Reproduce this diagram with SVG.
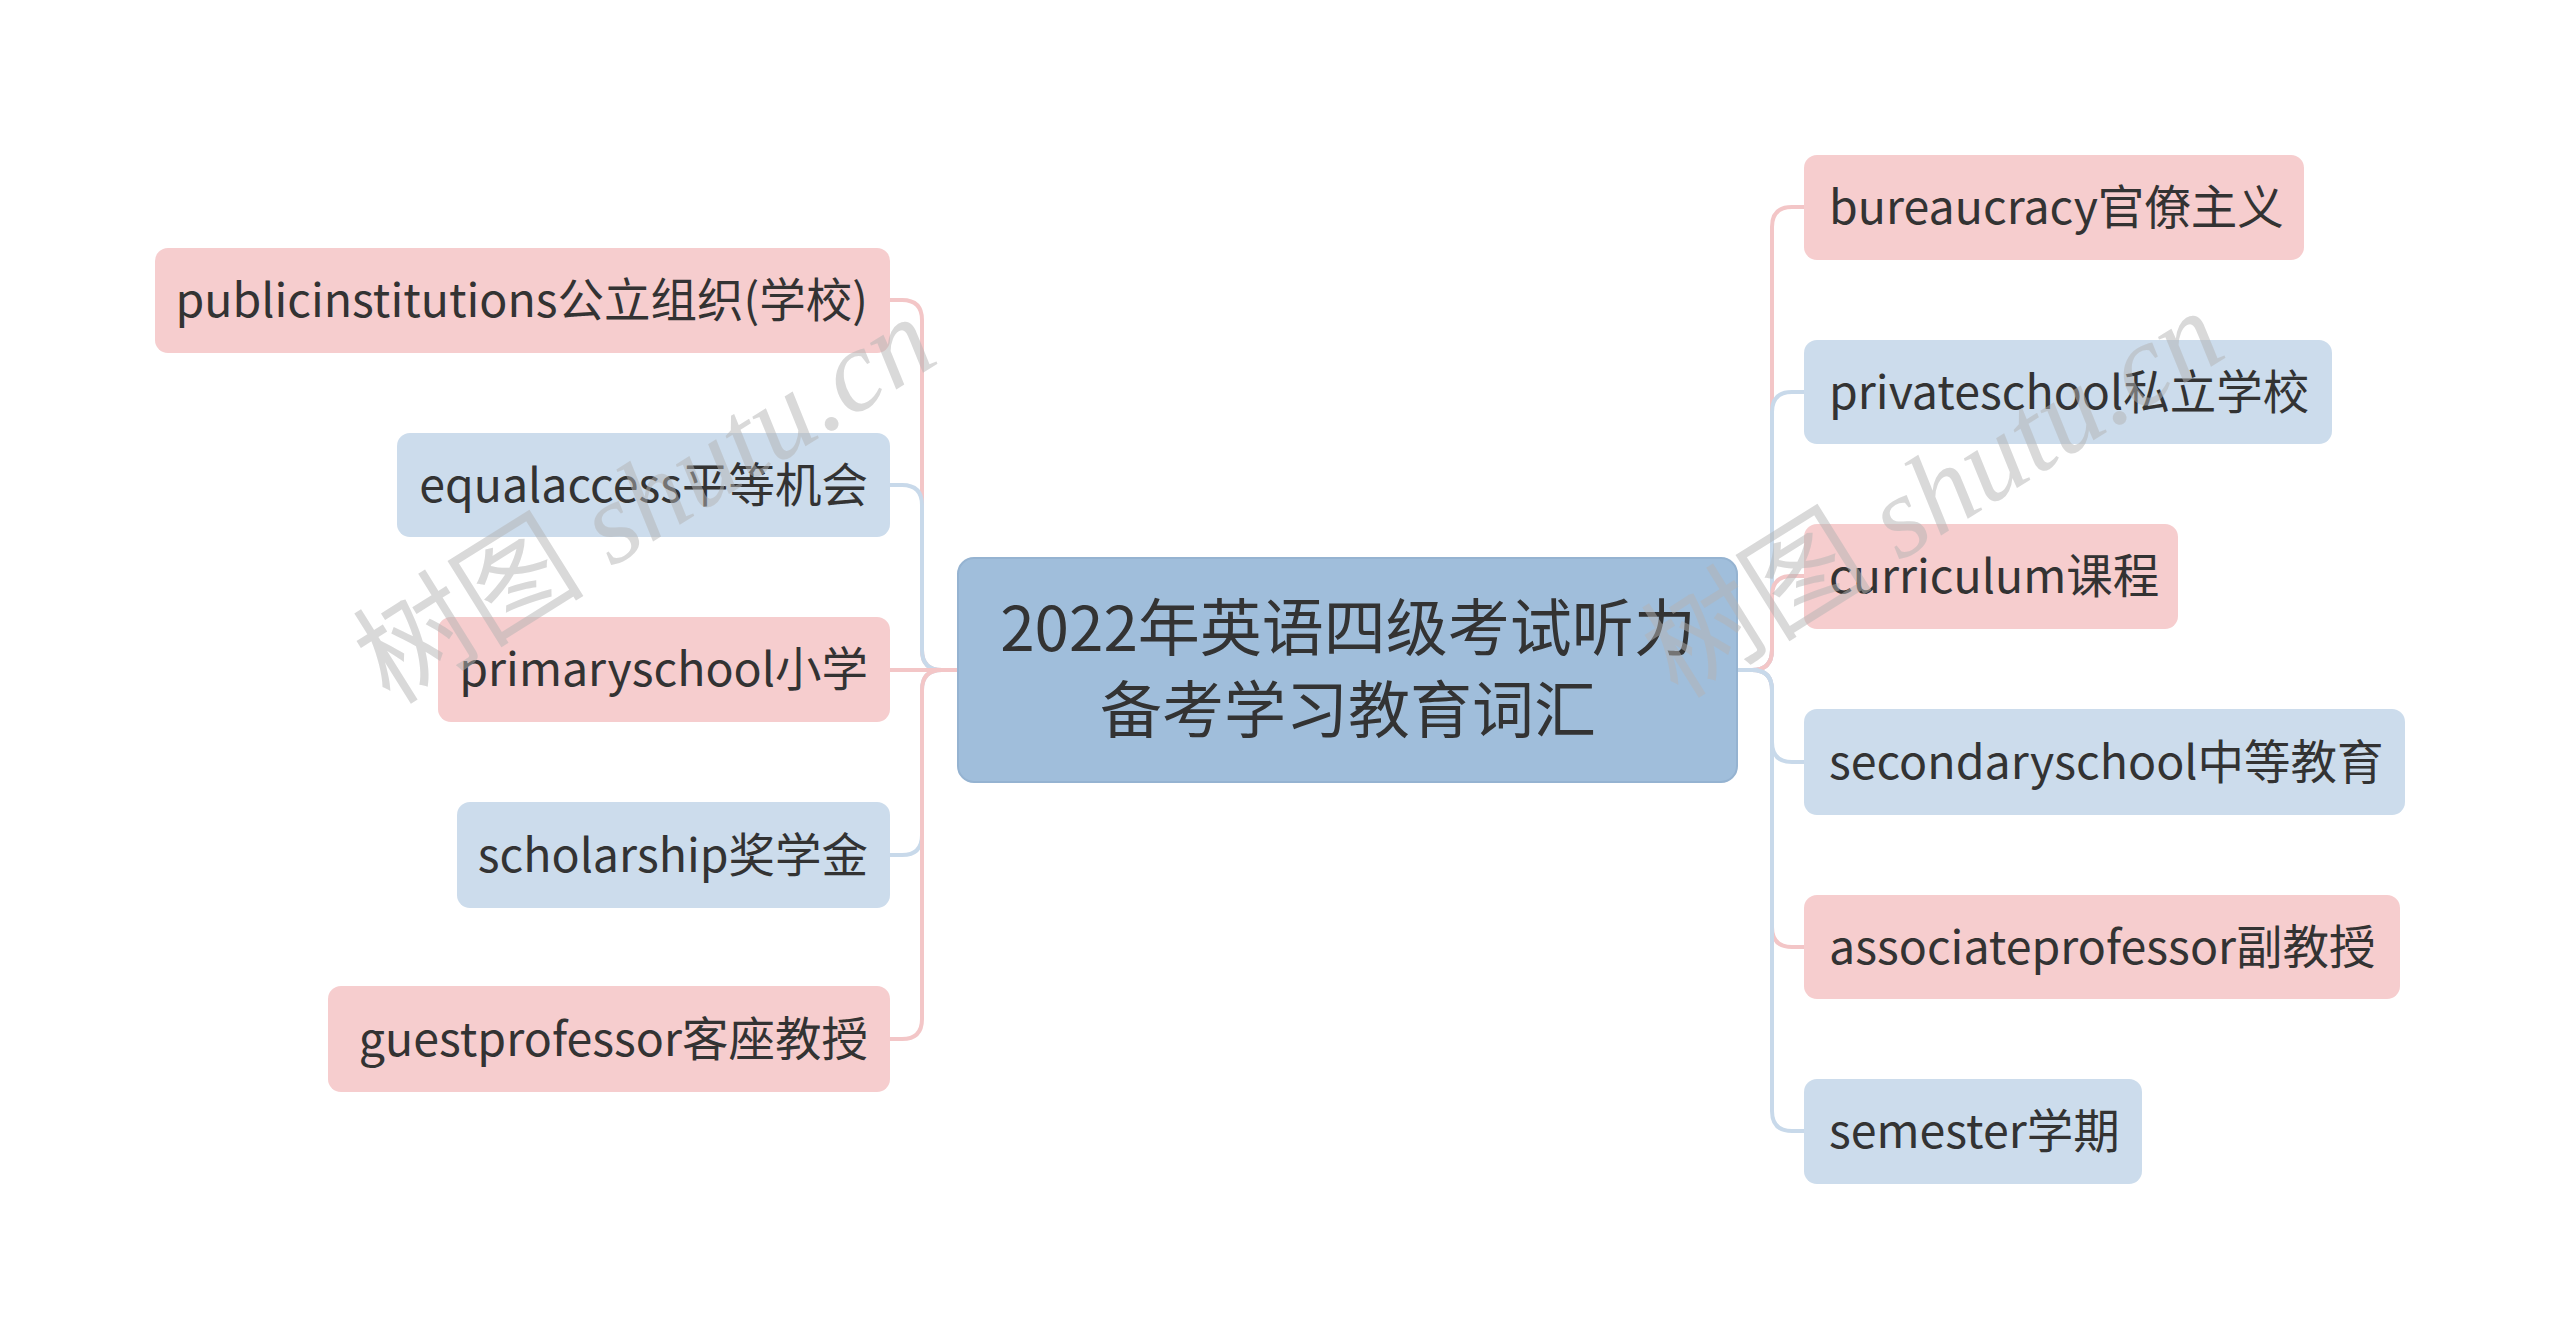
<svg xmlns="http://www.w3.org/2000/svg" width="2560" height="1341" viewBox="0 0 2560 1341">
<style>
.pink{fill:#f6cdce;}
.blue{fill:#ccdcec;}
.t{font-family:"Noto Sans CJK SC","Noto Sans",sans-serif;font-size:46.5px;fill:#333333;}
.l{text-anchor:end;}
.c{font-family:"Noto Sans CJK SC","Noto Sans",sans-serif;font-size:62px;fill:#333333;text-anchor:middle;}
.cp{fill:none;stroke:#f3c6c7;stroke-width:4;}
.cb{fill:none;stroke:#c8d9ea;stroke-width:4;}
.wm{font-size:116px;fill:#b4b4b4;opacity:0.5;}
</style>
<rect width="2560" height="1341" fill="#ffffff"/>
<g id="connectors">
<path class="cp" d="M958 670 H942 Q922 670 922 650 V320 Q922 300 902 300 H890"/>
<path class="cb" d="M958 670 H942 Q922 670 922 650 V505 Q922 485 902 485 H890"/>
<path class="cb" d="M958 670 H942 Q922 670 922 690 V835 Q922 855 902 855 H890"/>
<path class="cp" d="M958 670 H942 Q922 670 922 690 V1019 Q922 1039 902 1039 H890"/>
<path class="cp" d="M958 670 H890"/>
<path class="cp" d="M1737 670 H1752 Q1772 670 1772 650 V227 Q1772 207 1792 207 H1804"/>
<path class="cb" d="M1737 670 H1752 Q1772 670 1772 650 V412 Q1772 392 1792 392 H1804"/>
<path class="cp" d="M1737 670 H1752 Q1772 670 1772 650 V596 Q1772 576 1792 576 H1804"/>
<path class="cp" d="M1737 670 H1752 Q1772 670 1772 690 V927 Q1772 947 1792 947 H1804"/>
<path class="cb" d="M1737 670 H1752 Q1772 670 1772 690 V1111 Q1772 1131 1792 1131 H1804"/>
<path class="cb" d="M1737 670 H1752 Q1772 670 1772 690 V742 Q1772 762 1792 762 H1804"/>
</g>
<g id="center">
<rect x="958" y="558" width="779" height="224" rx="16" fill="#a0bedb" stroke="#95b3d1" stroke-width="2"/>
<text class="c" x="1348" y="651">2022年英语四级考试听力</text>
<text class="c" x="1348" y="733">备考学习教育词汇</text>
</g>
<g id="n-publicinstitutions">
<rect class="pink" x="155" y="248" width="735" height="105" rx="13"/>
<text class="t l" x="868" y="317">publicinstitutions公立组织(学校)</text>
</g>
<g id="n-equalaccess">
<rect class="blue" x="397" y="433" width="493" height="104" rx="13"/>
<text class="t l" x="868" y="502">equalaccess平等机会</text>
</g>
<g id="n-primaryschool">
<rect class="pink" x="438" y="617" width="452" height="105" rx="13"/>
<text class="t l" x="868" y="686">primaryschool小学</text>
</g>
<g id="n-scholarship">
<rect class="blue" x="457" y="802" width="433" height="106" rx="13"/>
<text class="t l" x="868" y="872">scholarship奖学金</text>
</g>
<g id="n-guestprofessor">
<rect class="pink" x="328" y="986" width="562" height="106" rx="13"/>
<text class="t l" x="868" y="1056">guestprofessor客座教授</text>
</g>
<g id="n-bureaucracy">
<rect class="pink" x="1804" y="155" width="500" height="105" rx="13"/>
<text class="t" x="1829" y="224">bureaucracy官僚主义</text>
</g>
<g id="n-privateschool">
<rect class="blue" x="1804" y="340" width="528" height="104" rx="13"/>
<text class="t" x="1829" y="409">privateschool私立学校</text>
</g>
<g id="n-curriculum">
<rect class="pink" x="1804" y="524" width="374" height="105" rx="13"/>
<text class="t" x="1829" y="593">curriculum课程</text>
</g>
<g id="n-secondaryschool">
<rect class="blue" x="1804" y="709" width="601" height="106" rx="13"/>
<text class="t" x="1829" y="779">secondaryschool中等教育</text>
</g>
<g id="n-associateprofessor">
<rect class="pink" x="1804" y="895" width="596" height="104" rx="13"/>
<text class="t" x="1829" y="964">associateprofessor副教授</text>
</g>
<g id="n-semester">
<rect class="blue" x="1804" y="1079" width="338" height="105" rx="13"/>
<text class="t" x="1829" y="1148">semester学期</text>
</g>
<g id="watermark">
<text class="wm" transform="translate(390,706) rotate(-32)"><tspan font-family="Noto Sans CJK SC, sans-serif">树图</tspan><tspan font-family="Liberation Serif, serif" font-style="italic"> shutu.cn</tspan></text>
<text class="wm" transform="translate(1678,700) rotate(-32)"><tspan font-family="Noto Sans CJK SC, sans-serif">树图</tspan><tspan font-family="Liberation Serif, serif" font-style="italic"> shutu.cn</tspan></text>
</g>
</svg>
